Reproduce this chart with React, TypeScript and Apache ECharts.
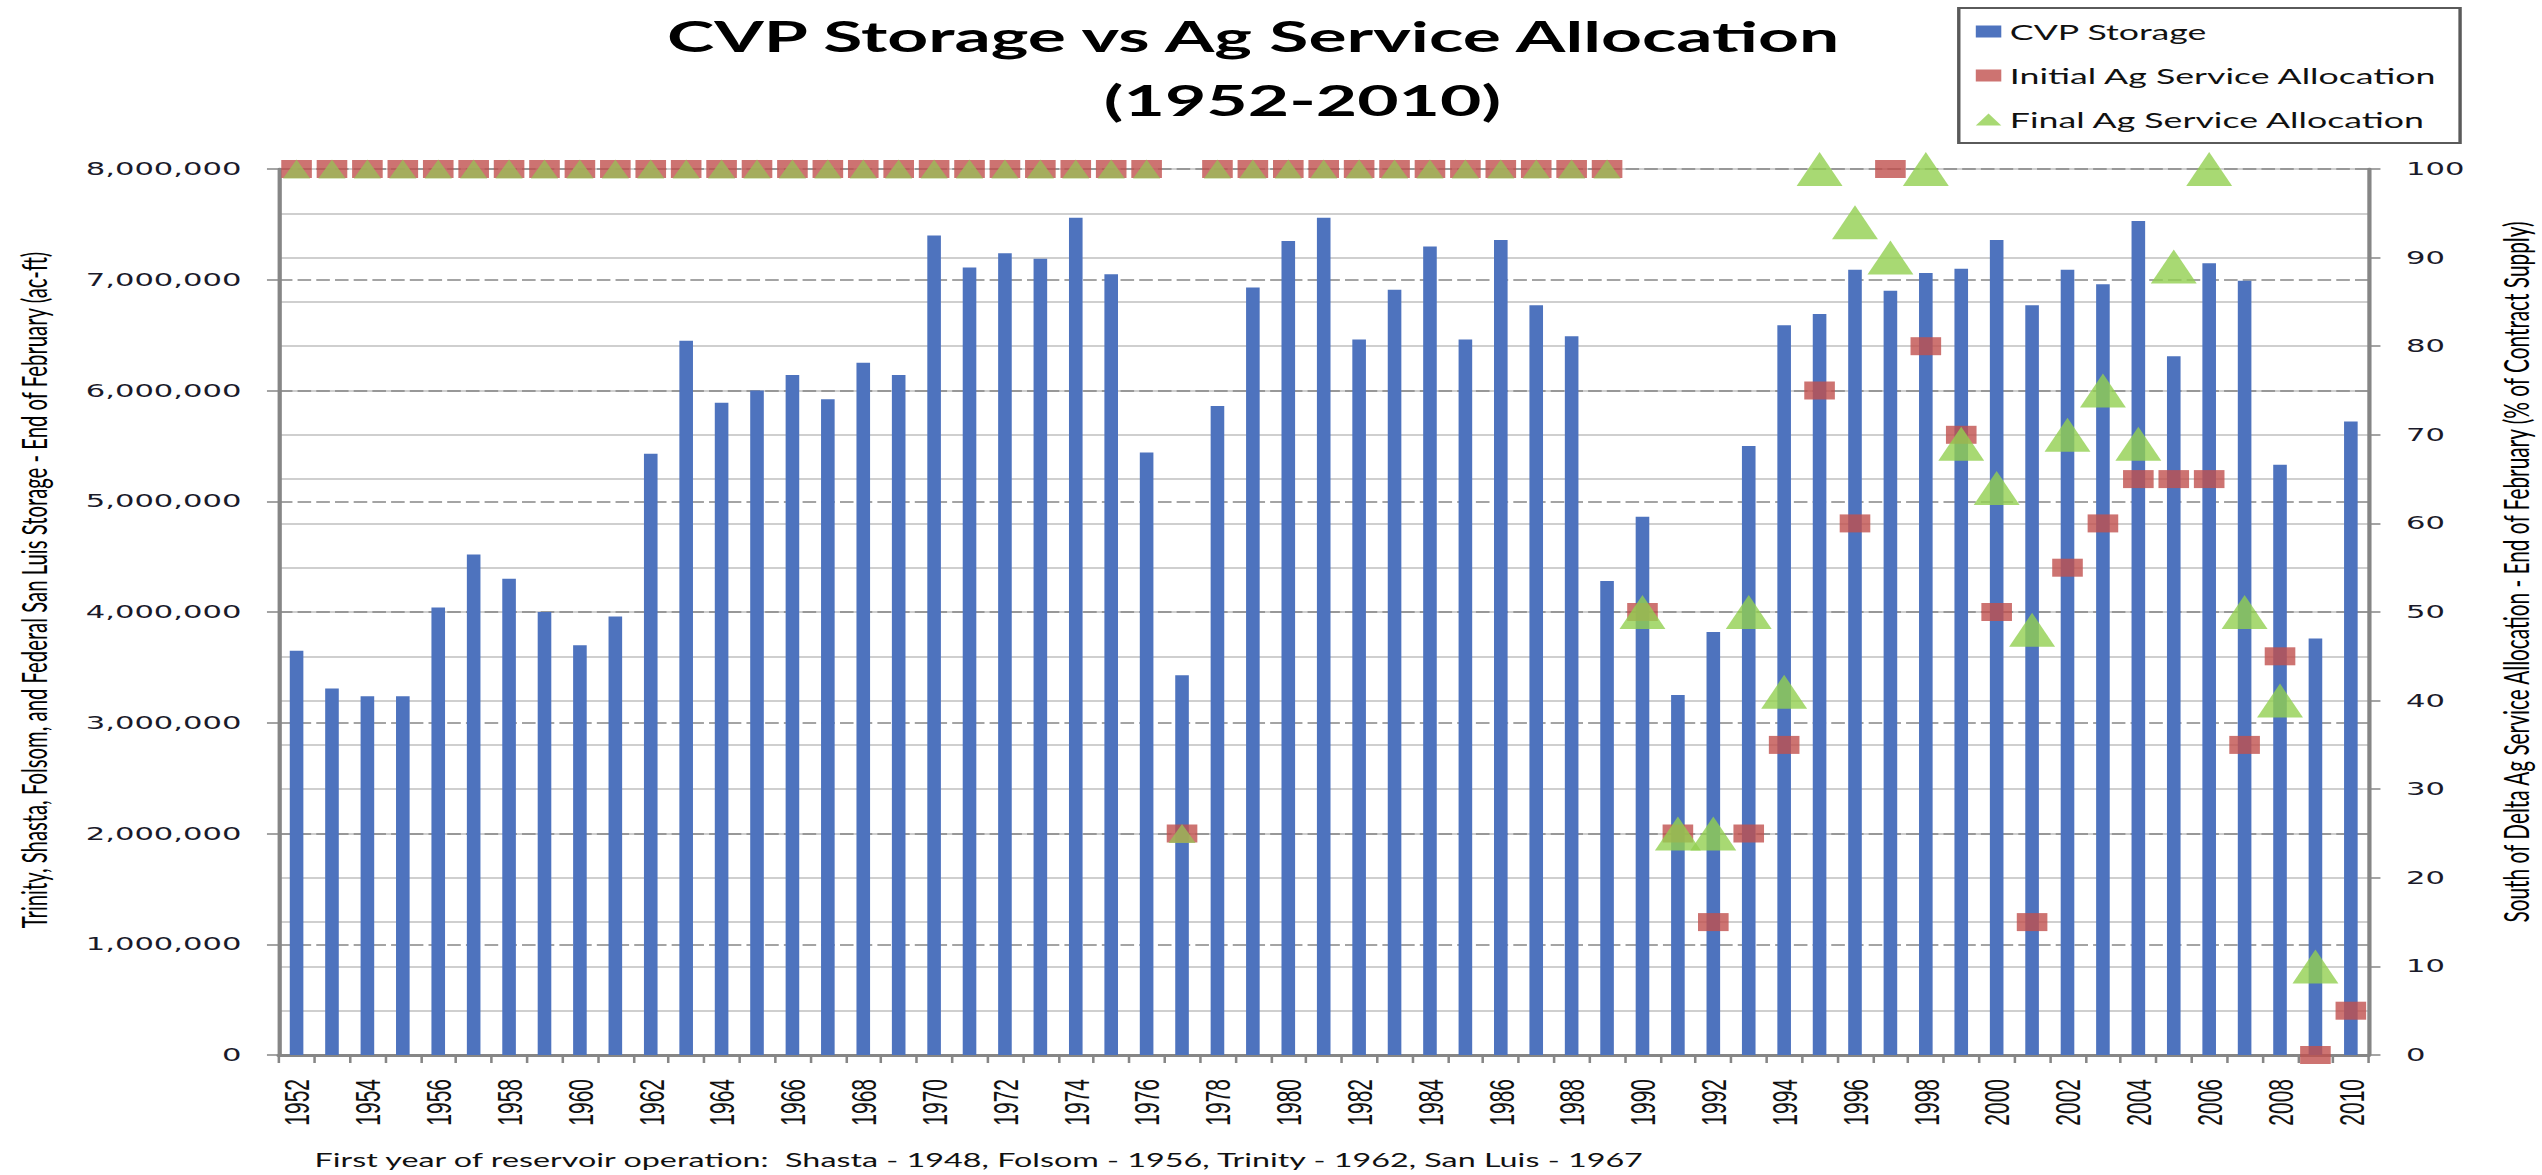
import React, { useEffect, useRef } from 'react';
import * as echarts from 'echarts';

// ---------- data ----------
const years = [
  '1952', '1953', '1954', '1955', '1956', '1957', '1958', '1959', '1960', '1961',
  '1962', '1963', '1964', '1965', '1966', '1967', '1968', '1969', '1970', '1971',
  '1972', '1973', '1974', '1975', '1976', '1977', '1978', '1979', '1980', '1981',
  '1982', '1983', '1984', '1985', '1986', '1987', '1988', '1989', '1990', '1991',
  '1992', '1993', '1994', '1995', '1996', '1997', '1998', '1999', '2000', '2001',
  '2002', '2003', '2004', '2005', '2006', '2007', '2008', '2009', '2010',
];

// CVP storage, end of February (ac-ft)
const storage = [
  3650000, 3310000, 3240000, 3240000, 4040000, 4520000, 4300000, 4000000, 3700000, 3960000,
  5430000, 6450000, 5890000, 6000000, 6140000, 5920000, 6250000, 6140000, 7400000, 7110000,
  7240000, 7190000, 7560000, 7050000, 5440000, 3430000, 5860000, 6930000, 7350000, 7560000,
  6460000, 6910000, 7300000, 6460000, 7360000, 6770000, 6490000, 4280000, 4860000, 3250000,
  3820000, 5500000, 6590000, 6690000, 7090000, 6900000, 7060000, 7100000, 7360000, 6770000,
  7090000, 6960000, 7530000, 6310000, 7150000, 6990000, 5330000, 3760000, 5720000,
];

// Initial Ag service allocation (% of contract supply)
const initialAlloc: (number | null)[] = [
  100, 100, 100, 100, 100, 100, 100, 100, 100, 100,
  100, 100, 100, 100, 100, 100, 100, 100, 100, 100,
  100, 100, 100, 100, 100, 25, 100, 100, 100, 100,
  100, 100, 100, 100, 100, 100, 100, 100, 50, 25,
  15, 25, 35, 75, 60, 100, 80, 70, 50, 15,
  55, 60, 65, 65, 65, 35, 45, 0, 5,
];

// Final Ag service allocation (% of contract supply)
const finalAlloc: (number | null)[] = [
  100, 100, 100, 100, 100, 100, 100, 100, 100, 100,
  100, 100, 100, 100, 100, 100, 100, 100, 100, 100,
  100, 100, 100, 100, 100, 25, 100, 100, 100, 100,
  100, 100, 100, 100, 100, 100, 100, 100, 50, 25,
  25, 50, 41, 100, 94, 90, 100, 69, 64, 48,
  70, 75, 69, 89, 100, 50, 40, 10, null,
];

const seriesNames = ['CVP Storage', 'Initial Ag Service Allocation', 'Final Ag Service Allocation'];
const titleLines = ['CVP Storage vs Ag Service Allocation', '(1952-2010)'];
const leftAxisName = 'Trinity, Shasta, Folsom, and Federal San Luis Storage - End of February (ac-ft)';
const rightAxisName = 'South of Delta Ag Service Allocation - End of February (% of Contract Supply)';
const footnote = 'First year of reservoir operation:  Shasta - 1948, Folsom - 1956, Trinity - 1962, San Luis - 1967';
const lastEarlyYear = 1989; // markers of the early, full-allocation period are drawn smaller

// ---------- layout / style ----------
const PAGE_W = 2542;
const PAGE_H = 1175;
const BASE_W = 1495; // chart is drawn at this width, then stretched horizontally like the source image
const STRETCH = PAGE_W / BASE_W;

const BLUE = '#4E73BE';
const RED = '#C0504D';
const GREEN = '#92D050';
const GREEN_EARLY = '#9BBB59';
const AXIS_GRAY = '#868686';
const GRID_GRAY = '#BFBFBF';

function buildOption() {
  const initialData = years
    .map((y, i) => (initialAlloc[i] == null ? null : { value: [y, initialAlloc[i]] }))
    .filter((d) => d != null);
  const finalData = years
    .map((y, i) => {
      const v = finalAlloc[i];
      if (v == null) return null;
      if (Number(y) <= lastEarlyYear) {
        return { value: [y, v], symbolSize: [16, 19], itemStyle: { color: GREEN_EARLY } };
      }
      return { value: [y, v] };
    })
    .filter((d) => d != null);

  const titleStyle = {
    fontFamily: 'Lato',
    fontWeight: 'bold',
    fontSize: 42,
    lineHeight: 64,
    color: '#000000',
  };

  return {
    animation: false,
    backgroundColor: '#ffffff',
    title: [
      { text: titleLines[0], left: 737, top: 4, padding: 0, textAlign: 'center', textStyle: titleStyle },
      { text: titleLines[1], left: 766, top: 68, padding: 0, textAlign: 'center', textStyle: titleStyle },
    ],
    legend: {
      orient: 'vertical',
      left: 1152,
      top: 8,
      padding: [11, 13, 11, 10],
      itemGap: 19,
      itemWidth: 15,
      itemHeight: 12,
      borderColor: '#5a5a5a',
      borderWidth: 2,
      backgroundColor: '#ffffff',
      textStyle: { fontFamily: 'Lato', fontSize: 21, color: '#111111', lineHeight: 25 },
      data: [
        { name: seriesNames[0], icon: 'rect' },
        { name: seriesNames[1], icon: 'rect' },
        { name: seriesNames[2], icon: 'triangle' },
      ],
      selectedMode: false,
    },
    grid: { left: 164, right: 102, top: 169, bottom: 120, containLabel: false },
    xAxis: {
      type: 'category',
      data: years,
      boundaryGap: true,
      axisLine: { show: true, lineStyle: { color: AXIS_GRAY, width: 3 } },
      axisTick: { show: true, interval: 0, length: 8, alignWithLabel: false, lineStyle: { color: AXIS_GRAY, width: 1.5 } },
      axisLabel: {
        interval: 1,
        rotate: 90,
        margin: 24,
        fontFamily: 'Liberation Sans',
        fontSize: 21,
        color: '#111111',
      },
      splitLine: { show: false },
    },
    yAxis: [
      {
        type: 'value',
        position: 'left',
        min: 0,
        max: 8000000,
        interval: 1000000,
        z: 1,
        axisLine: { show: true, lineStyle: { color: AXIS_GRAY, width: 2.5 } },
        axisTick: { show: true, length: 7, lineStyle: { color: AXIS_GRAY, width: 1.5 } },
        axisLabel: {
          margin: 22,
          fontFamily: 'DejaVu Sans',
          fontSize: 18,
          color: '#1a1a2a',
          formatter: (v: number) => v.toLocaleString('en-US'),
        },
        splitLine: { show: true, lineStyle: { color: AXIS_GRAY, width: 1.5, type: [8, 3] } },
      },
      {
        type: 'value',
        position: 'right',
        min: 0,
        max: 100,
        interval: 10,
        z: 0,
        axisLine: { show: true, lineStyle: { color: AXIS_GRAY, width: 2.5 } },
        axisTick: { show: true, length: 7, lineStyle: { color: AXIS_GRAY, width: 1.5 } },
        axisLabel: { margin: 22, fontFamily: 'DejaVu Sans', fontSize: 18, color: '#1a1a2a' },
        splitLine: { show: true, lineStyle: { color: GRID_GRAY, width: 1.5, type: 'solid' } },
        minorTick: { show: false, splitNumber: 2 },
        minorSplitLine: { show: true, lineStyle: { color: GRID_GRAY, width: 1.5, type: 'solid' } },
      },
    ],
    series: [
      {
        name: seriesNames[0],
        type: 'bar',
        yAxisIndex: 0,
        data: storage,
        barWidth: 8,
        itemStyle: { color: BLUE },
        silent: true,
      },
      {
        name: seriesNames[1],
        type: 'scatter',
        yAxisIndex: 1,
        symbol: 'rect',
        symbolSize: [18, 18],
        clip: false,
        itemStyle: { color: RED },
        data: initialData,
        silent: true,
        z: 3,
      },
      {
        name: seriesNames[2],
        type: 'scatter',
        yAxisIndex: 1,
        symbol: 'triangle',
        symbolSize: [27, 34],
        clip: false,
        itemStyle: { color: GREEN },
        data: finalData,
        silent: true,
        z: 4,
      },
    ],
    graphic: [
      {
        type: 'text',
        x: 20,
        y: 590,
        rotation: Math.PI / 2,
        silent: true,
        style: {
          text: leftAxisName,
          fontFamily: 'Lato',
          fontSize: 20.3,
          fill: '#000000',
          align: 'center',
          verticalAlign: 'middle',
        },
      },
      {
        type: 'text',
        x: 1479,
        y: 572,
        rotation: Math.PI / 2,
        silent: true,
        style: {
          text: rightAxisName,
          fontFamily: 'Lato',
          fontSize: 20.8,
          fill: '#000000',
          align: 'center',
          verticalAlign: 'middle',
        },
      },
      {
        type: 'text',
        x: 185,
        y: 1160,
        silent: true,
        style: {
          text: footnote,
          fontFamily: 'Lato',
          fontSize: 19,
          fill: '#111111',
          align: 'left',
          verticalAlign: 'middle',
        },
      },
    ],
  };
}

export default function App() {
  const ref = useRef<HTMLDivElement>(null);
  useEffect(() => {
    if (!ref.current) return;
    const chart = echarts.init(ref.current, null, { renderer: 'svg' });
    chart.setOption(buildOption() as any);
    return () => chart.dispose();
  }, []);
  return (
    <div
      ref={ref}
      style={{
        position: 'fixed',
        left: 0,
        top: 0,
        width: BASE_W,
        height: PAGE_H,
        overflow: 'hidden',
        transform: `scaleX(${STRETCH})`,
        transformOrigin: '0 0',
        background: '#ffffff',
      }}
    />
  );
}
